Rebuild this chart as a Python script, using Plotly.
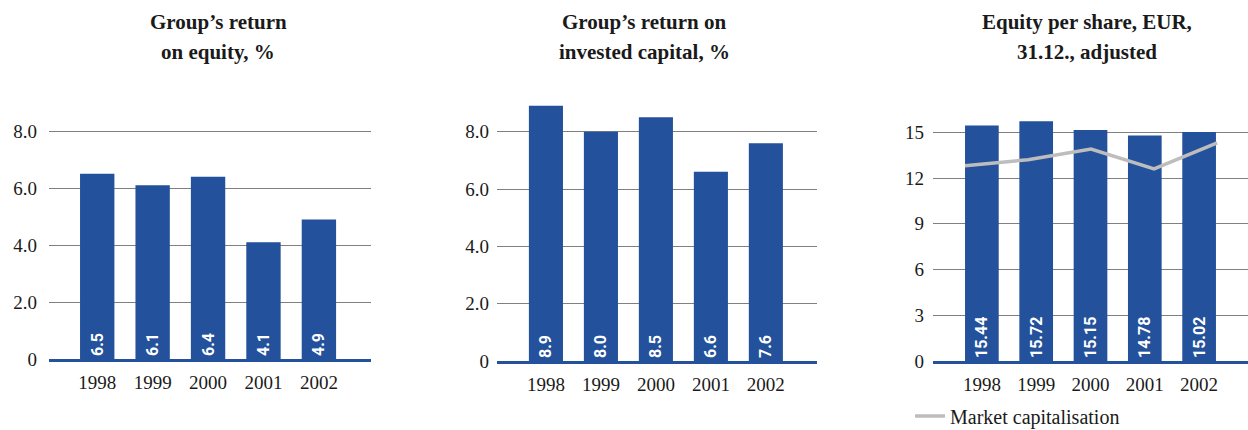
import plotly.graph_objects as go

# --- data -------------------------------------------------------------
years = ["1998", "1999", "2000", "2001", "2002"]
roe = [6.5, 6.1, 6.4, 4.1, 4.9]                 # Group's return on equity, %
roic = [8.9, 8.0, 8.5, 6.6, 7.6]                # Group's return on invested capital, %
equity_per_share = [15.44, 15.72, 15.15, 14.78, 15.02]
market_cap = [12.8, 13.2, 13.9, 12.6, 14.3]     # market capitalisation, same scale

pct_tickvals = [0, 2, 4, 6, 8]
pct_ticktext = ["0", "2.0", "4.0", "6.0", "8.0"]
eps_tickvals = [0, 3, 6, 9, 12, 15]
eps_ticktext = ["0", "3", "6", "9", "12", "15"]

titles = [
    ("Group’s return", "on equity, %"),
    ("Group’s return on", "invested capital, %"),
    ("Equity per share, EUR,", "31.12., adjusted"),
]

# --- style ------------------------------------------------------------
W, H = 1248, 430
BLUE = "#23519b"
GRID = "#808080"
LINE_GREY = "#bdbdbd"
SERIF = "Liberation Serif"
TICK_FONT = dict(family=SERIF, size=19, color="#1a1a1a")
BAR_TEXT_FONT = dict(family="Roboto", size=16, color="white", weight="bold")


def px_x(p):
    return p / W


def px_y(p):
    return 1 - p / H


fig = go.Figure()


def add_bars(values, xa, ya, labels):
    fig.add_trace(go.Bar(
        x=years, y=values, xaxis=xa, yaxis=ya,
        marker=dict(color=BLUE, line=dict(width=0)),
        width=0.62,
        text=labels, textposition="inside", insidetextanchor="start",
        textangle=-90, textfont=BAR_TEXT_FONT,
        cliponaxis=False, showlegend=False, hoverinfo="skip",
    ))


add_bars(roe, "x", "y", [f"{v:.1f}" for v in roe])
add_bars(roic, "x2", "y2", [f"{v:.1f}" for v in roic])
add_bars(equity_per_share, "x3", "y3", [f"{v:.2f}" for v in equity_per_share])

# market capitalisation line on its own category axis over the third panel
fig.add_trace(go.Scatter(
    x=years, y=market_cap, xaxis="x4", yaxis="y3",
    mode="lines", line=dict(color=LINE_GREY, width=3.5),
    name="Market capitalisation", showlegend=True, hoverinfo="skip",
))

# panel geometry (pixels): x-extent of the baseline, y of zero and top
panels = [
    dict(x0=49, x1=371, ybot=359, ytop=130, rng=[0, 8.04], xr=[-0.87, 4.94], stand=11),
    dict(x0=497, x1=817, ybot=361, ytop=103, rng=[0, 9.0], xr=[-0.89, 4.93], stand=7),
    dict(x0=933, x1=1248, ybot=361, ytop=117, rng=[0, 16.0], xr=[-0.90, 4.90], stand=8),
]

layout = dict(
    width=W, height=H,
    margin=dict(l=0, r=0, t=0, b=0, autoexpand=False),
    paper_bgcolor="white", plot_bgcolor="white",
    font=dict(family=SERIF, color="#1a1a1a"),
    bargap=0.38,
    showlegend=True,
    legend=dict(
        x=px_x(910), y=px_y(416), xanchor="left", yanchor="middle",
        font=dict(family=SERIF, size=20, color="#1a1a1a"),
        bgcolor="rgba(0,0,0,0)", itemwidth=30,
    ),
)

for i, p in enumerate(panels):
    sfx = "" if i == 0 else str(i + 1)
    tv, tt = (pct_tickvals, pct_ticktext) if i < 2 else (eps_tickvals, eps_ticktext)
    layout["xaxis" + sfx] = dict(
        domain=[px_x(p["x0"]), px_x(p["x1"])],
        anchor="y" + sfx, type="category", range=p["xr"],
        showline=True, linecolor=BLUE, linewidth=3,
        showgrid=False, zeroline=False, ticks="",
        tickfont=TICK_FONT, ticklabelstandoff=4, fixedrange=True,
    )
    layout["yaxis" + sfx] = dict(
        domain=[px_y(p["ybot"]), px_y(p["ytop"])],
        anchor="x" + sfx, range=p["rng"],
        tickvals=tv, ticktext=tt,
        showgrid=True, gridcolor=GRID, gridwidth=1,
        zeroline=False, showline=False, ticks="",
        tickfont=TICK_FONT, ticklabelstandoff=p["stand"], fixedrange=True,
    )

# category axis for the line: first point at the left edge of the first bar,
# last point at the right edge of the last bar
layout["xaxis4"] = dict(
    domain=layout["xaxis3"]["domain"], anchor="y3", overlaying="x3",
    type="category", range=[-0.508, 4.49], visible=False, fixedrange=True,
)

fig.update_layout(**layout)

title_centers = [218, 644, 1087]
for (l1, l2), cx in zip(titles, title_centers):
    for txt, cy in ((l1, 22), (l2, 52)):
        fig.add_annotation(
            x=px_x(cx), y=px_y(cy), xref="paper", yref="paper",
            xanchor="center", yanchor="middle", showarrow=False,
            text=f"<b>{txt}</b>",
            font=dict(family=SERIF, size=21, color="#1a1a1a"),
        )

fig.write_html("out.html")
